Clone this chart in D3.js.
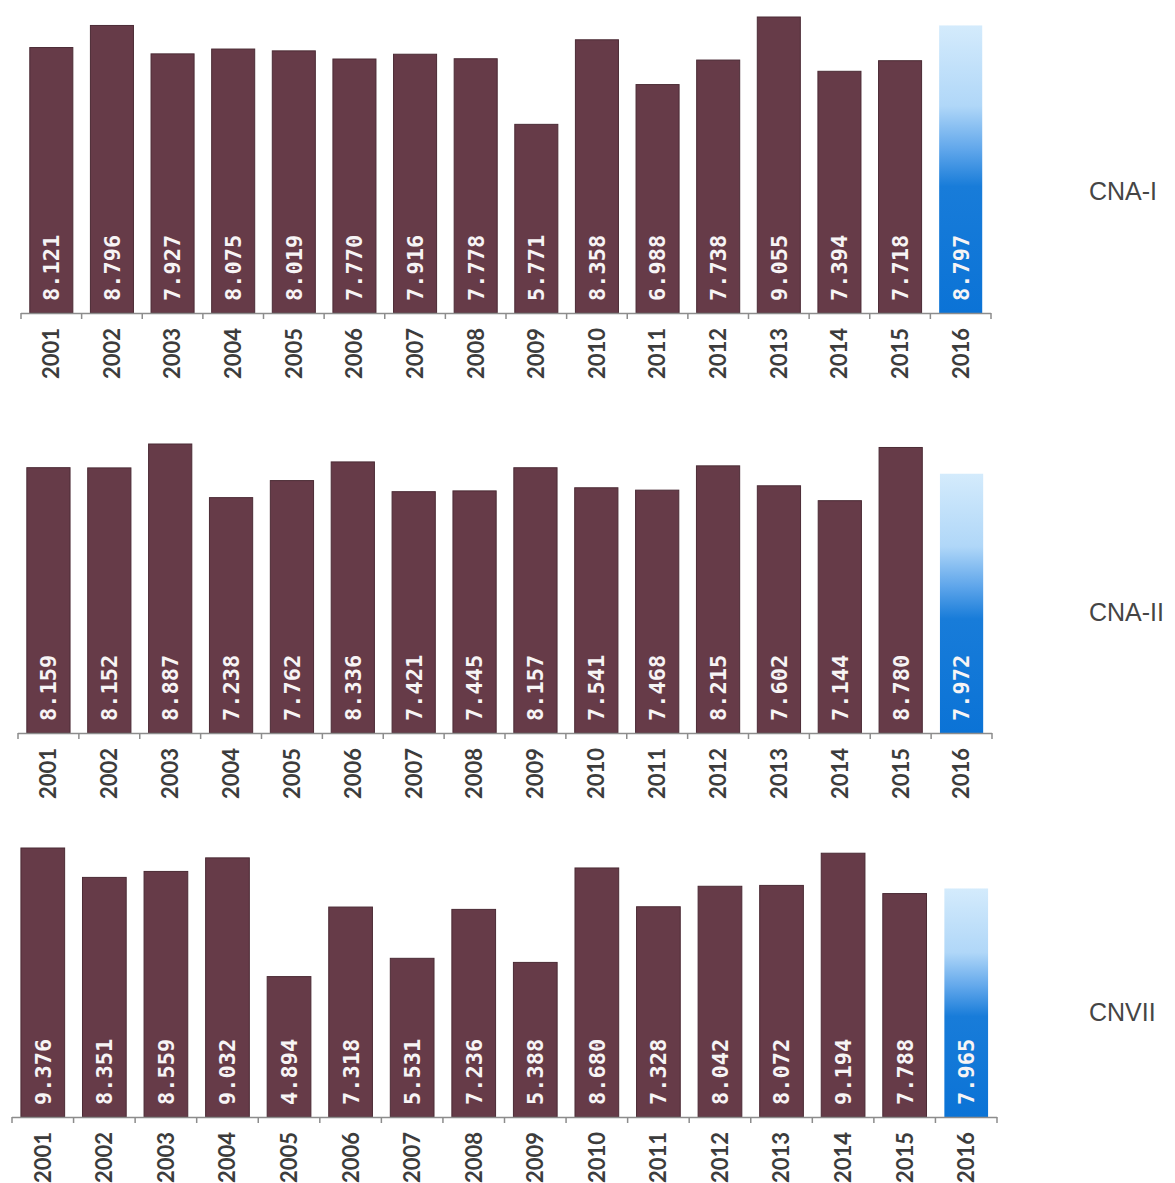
<!DOCTYPE html>
<html>
<head>
<meta charset="utf-8">
<script src="https://cdn.jsdelivr.net/npm/d3@7"></script>
<style>
  html, body { margin: 0; padding: 0; background: #ffffff; }
  svg { display: block; }
</style>
</head>
<body>
<svg id="chart" width="1175" height="1183"></svg>
<script>
// Yearly values for three indicators, 2001–2016
const years = ["2001","2002","2003","2004","2005","2006","2007","2008",
               "2009","2010","2011","2012","2013","2014","2015","2016"];
const seriesNames = ["CNA-I", "CNA-II", "CNVII"];
const cnaI   = [8.121, 8.796, 7.927, 8.075, 8.019, 7.770, 7.916, 7.778,
                5.771, 8.358, 6.988, 7.738, 9.055, 7.394, 7.718, 8.797];
const cnaII  = [8.159, 8.152, 8.887, 7.238, 7.762, 8.336, 7.421, 7.445,
                8.157, 7.541, 7.468, 8.215, 7.602, 7.144, 8.780, 7.972];
const cnvII  = [9.376, 8.351, 8.559, 9.032, 4.894, 7.318, 5.531, 7.236,
                5.388, 8.680, 7.328, 8.042, 8.072, 9.194, 7.788, 7.965];
const seriesValues = [cnaI, cnaII, cnvII];
const highlightYear = "2016";

// Panel geometry (layout only)
const panels = [
  { x0: 21, x1: 991, base: 313, top: 17,  labelY: 191 },
  { x0: 18, x1: 992, base: 733, top: 444, labelY: 612 },
  { x0: 12, x1: 997, base: 1117, top: 848, labelY: 1012 }
];

const svg = d3.select("#chart");

// Vertical gradient for the highlighted year
const defs = svg.append("defs");
const grad = defs.append("linearGradient")
  .attr("id", "hiGrad").attr("x1", 0).attr("y1", 0).attr("x2", 0).attr("y2", 1);
[[0, "#d4ebfc"], [0.28, "#b0d7f8"], [0.43, "#61a7eb"], [0.56, "#187cd9"], [1, "#0b73d6"]]
  .forEach(([o, c]) => grad.append("stop").attr("offset", o).attr("stop-color", c));

seriesValues.forEach((vals, si) => {
  const p = panels[si];
  const data = years.map((y, i) => ({ year: y, value: vals[i] }));
  const g = svg.append("g");

  const inner = 0.29;
  const x = d3.scaleBand().domain(years).range([p.x0, p.x1])
    .paddingInner(inner).paddingOuter(inner / 2);
  const maxV = d3.max(vals);
  const y = d3.scaleLinear().domain([0, maxV]).range([p.base, p.top]);
  const step = x.step();

  // Bars
  g.selectAll("rect.bar").data(data).join("rect")
    .attr("class", "bar")
    .attr("x", d => x(d.year))
    .attr("width", x.bandwidth())
    .attr("y", d => y(d.value))
    .attr("height", d => y(0) - y(d.value))
    .attr("fill", d => d.year === highlightYear ? "url(#hiGrad)" : "#663b48")
    .attr("stroke", d => d.year === highlightYear ? "none" : "#4b2b35")
    .attr("stroke-width", 1);

  // Value labels inside bars, rotated
  g.selectAll("text.val").data(data).join("text")
    .attr("class", "val")
    .attr("transform", d => `translate(${x(d.year) + x.bandwidth() / 2},${y(0) - 12}) rotate(-90)`)
    .attr("dy", "0.36em")
    .attr("text-anchor", "start")
    .attr("fill", "#f7f4f5")
    .style("font-family", "'DejaVu Sans Mono', monospace")
    .style("font-weight", "bold")
    .style("font-size", "22px")
    .text(d => d.value.toFixed(3));

  // Category axis: baseline with ticks at band boundaries
  const bounds = d3.range(years.length + 1).map(i => p.x0 + i * step);
  g.append("line")
    .attr("x1", p.x0).attr("x2", p.x1)
    .attr("y1", p.base + 0.5).attr("y2", p.base + 0.5)
    .attr("stroke", "#8c8c8c").attr("stroke-width", 1.5);
  g.selectAll("line.tick").data(bounds).join("line")
    .attr("class", "tick")
    .attr("x1", d => d).attr("x2", d => d)
    .attr("y1", p.base).attr("y2", p.base + 6)
    .attr("stroke", "#8c8c8c").attr("stroke-width", 1.5);

  // Year labels
  g.selectAll("text.yr").data(years).join("text")
    .attr("class", "yr")
    .attr("transform", d => `translate(${x(d) + x.bandwidth() / 2},${p.base + 15}) rotate(-90)`)
    .attr("dy", "0.36em")
    .attr("text-anchor", "end")
    .attr("fill", "#3c3c3c")
    .style("font-family", "Lato, 'Open Sans', sans-serif")
    .style("font-weight", "bold")
    .style("font-size", "22px")
    .text(d => d);

  // Series name
  svg.append("text")
    .attr("x", 1089).attr("y", p.labelY)
    .attr("dy", "0.36em")
    .attr("fill", "#454545")
    .style("font-family", "'Liberation Sans', Arial, sans-serif")
    .style("font-size", "25px")
    .text(seriesNames[si]);
});
</script>
</body>
</html>
